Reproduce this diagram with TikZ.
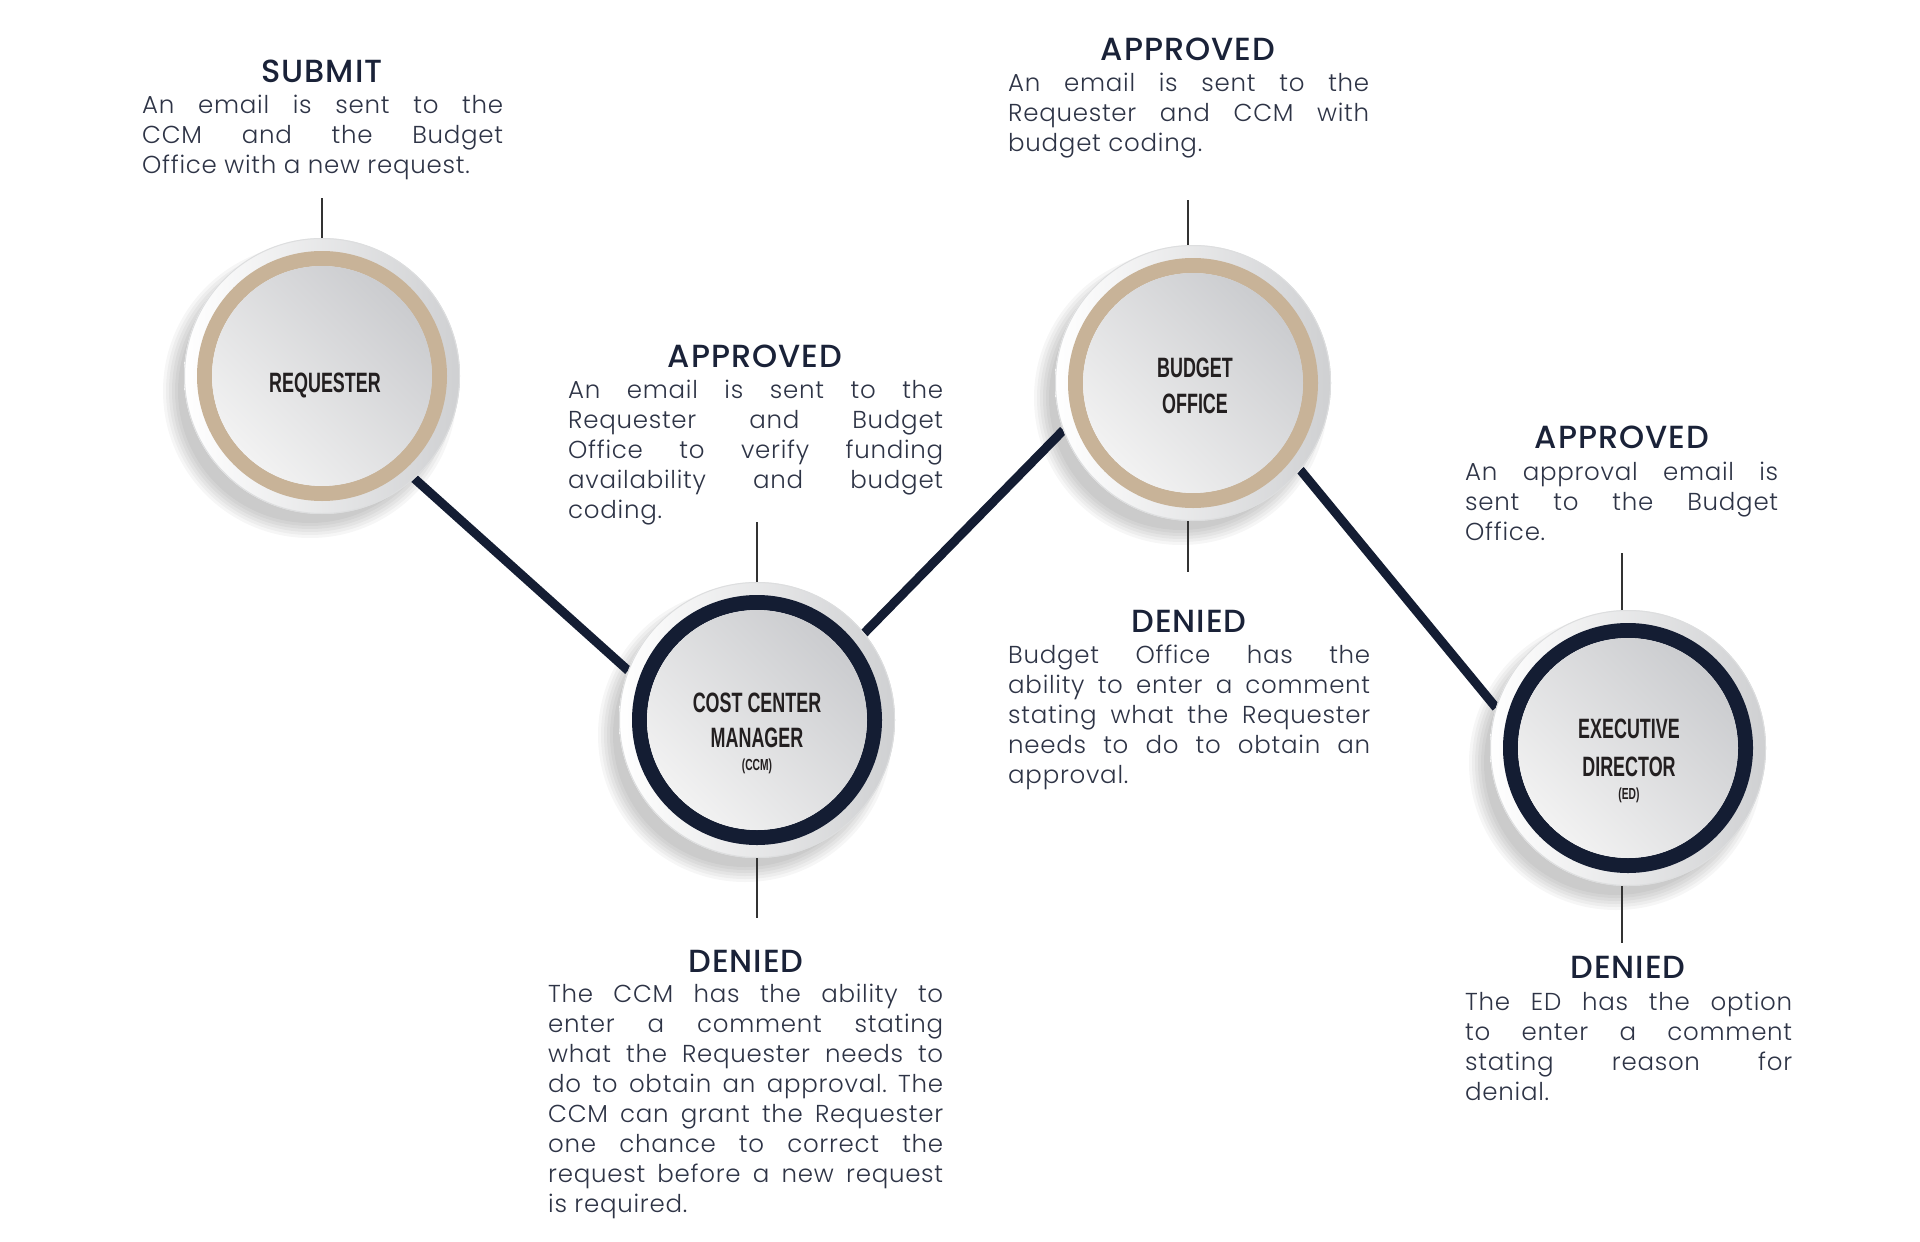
\documentclass[tikz,border=0pt]{standalone}
\usepackage{fontspec}
\usepackage{tikz}
\usetikzlibrary{positioning,calc}
\pgfdeclarelayer{bg}
\pgfsetlayers{bg,main}
\setmainfont{Poppins}
\newfontfamily\bodyfont{Poppins Light}[LetterSpace=3]
\newfontfamily\headfont{Poppins Medium}[LetterSpace=3]
\newfontfamily\capfont{Liberation Sans}[FakeStretch=0.64]
\definecolor{navy}{HTML}{141D33}
\definecolor{tan}{HTML}{C8B398}
\definecolor{headnavy}{HTML}{1A2238}
\definecolor{bodyink}{HTML}{2E3446}
\definecolor{tickgray}{HTML}{333333}
\definecolor{labelblack}{HTML}{231F20}
\definecolor{rimgray}{HTML}{CFD0D2}
\definecolor{discdark}{HTML}{CBCCCF}
\definecolor{disclight}{HTML}{F2F2F2}
\setlength{\parindent}{0pt}
\frenchspacing
% one justified line, and the last line of a block
\newcommand{\jl}[1]{\makebox[\hsize][s]{\strut #1}\\}
\newcommand{\lastl}[1]{\strut #1}

\begin{document}
\begin{tikzpicture}[x=1pt,y=-1pt,
    stage/.style={circle, minimum size=276pt, inner sep=0pt, outer sep=0pt},
    link/.style={navy, line width=9pt},
    tickline/.style={tickgray, line width=2.2pt},
    headtxt/.style={font=\headfont\fontsize{32}{36}\selectfont, text=headnavy, inner sep=0pt, anchor=base},
    bodytxt/.style={font=\bodyfont\fontsize{24.5}{30}\selectfont, text=bodyink, inner sep=0pt, anchor=north west, align=justify, text width=#1},
    stagelbl/.style={font=\capfont\bfseries\fontsize{28}{34}\selectfont, text=labelblack, inner sep=0pt, anchor=base},
    stagesub/.style={font=\capfont\bfseries\fontsize{16}{18}\selectfont, text=labelblack, inner sep=0pt, anchor=base}]
    \useasboundingbox (0,0) rectangle (1920,1242);

    % the four stages
    \node[stage] (req) at (322,376) {};
    \node[stage] (ccm) at (757,720) {};
    \node[stage] (bo) at (1193,383) {};
    \node[stage] (ed) at (1628,748) {};

    % background and soft shadows
    \begin{pgfonlayer}{bg}
        \fill[white] (0,0) rectangle (1920,1242);
        \foreach \n in {req,ccm,bo,ed}
            \foreach \r in {132,135,...,147}
                \fill[black, opacity=.035] ($(\n)+(-12,15)$) circle[radius=\r pt];
    \end{pgfonlayer}

    % connectors
    \draw[link] (req.-48) -- (ccm.159);
    \draw[link] (ccm.39) -- (bo.200);
    \draw[link] (bo.-39) -- (ed.163);

    % discs with coloured rings
    \foreach \n/\c in {req/tan,ccm/navy,bo/tan,ed/navy}{
        \shade[left color=white, right color=rimgray] (\n) circle[radius=138pt];
        \draw[rimgray!70, line width=1pt] (\n) circle[radius=137.5pt];
        \draw[\c, line width=15pt] (\n) circle[radius=117.5pt];
        \shade[top color=discdark, bottom color=disclight, shading angle=-45] (\n) circle[radius=110pt];
    }

    % ticks
    \coordinate (req-up) at (322,198);
    \draw[tickline] (req-up) -- (req.north);
    \coordinate (ccm-up) at (757,522);
    \draw[tickline] (ccm-up) -- (ccm.north);
    \coordinate (ccm-dn) at (757,918);
    \draw[tickline] (ccm.south) -- (ccm-dn);
    \coordinate (bo-up) at (1188,200);
    \draw[tickline] (bo-up) -- (bo-up |- bo.north);
    \coordinate (bo-dn) at (1188,572);
    \draw[tickline] (bo-dn |- bo.south) -- (bo-dn);
    \coordinate (ed-up) at (1622,553);
    \draw[tickline] (ed-up) -- (ed-up |- ed.north);
    \coordinate (ed-dn) at (1622,943);
    \draw[tickline] (ed-dn |- ed.south) -- (ed-dn);

    % stage names
    \node[stagelbl] (req-l) at (325,392) {REQUESTER};
    \node[stagelbl] (ccm-l1) at (757,712) {COST CENTER};
    \node[stagelbl] (ccm-l2) at (757,747) {MANAGER};
    \node[stagesub] (ccm-l3) at (757,770) {(CCM)};
    \node[stagelbl] (bo-l1) at (1195,377) {BUDGET};
    \node[stagelbl] (bo-l2) at (1195,413) {OFFICE};
    \node[stagelbl] (ed-l1) at (1629,738) {EXECUTIVE};
    \node[stagelbl] (ed-l2) at (1629,776) {DIRECTOR};
    \node[stagesub] (ed-l3) at (1629,799) {(ED)};

    % notes
    \node[headtxt] (submit) at (322,82) {SUBMIT};
    \node[bodytxt=361pt] (submit-txt) at (142,92) {\jl{An email is sent to the}\jl{CCM and the Budget}\lastl{Office with a new request.}};

    \node[headtxt] (ccm-ok) at (755,367) {APPROVED};
    \node[bodytxt=375pt] (ccm-ok-txt) at (568,377) {\jl{An email is sent to the}\jl{Requester and Budget}\jl{Office to verify funding}\jl{availability and budget}\lastl{coding.}};

    \node[headtxt] (bo-ok) at (1188,60) {APPROVED};
    \node[bodytxt=361pt] (bo-ok-txt) at (1008,70) {\jl{An email is sent to the}\jl{Requester and CCM with}\lastl{budget coding.}};

    \node[headtxt] (bo-no) at (1189,632) {DENIED};
    \node[bodytxt=362pt] (bo-no-txt) at (1008,642) {\jl{Budget Office has the}\jl{ability to enter a comment}\jl{stating what the Requester}\jl{needs to do to obtain an}\lastl{approval.}};

    \node[headtxt] (ccm-no) at (746,972) {DENIED};
    \node[bodytxt=395pt] (ccm-no-txt) at (548,981) {\jl{The CCM has the ability to}\jl{enter a comment stating}\jl{what the Requester needs to}\jl{do to obtain an approval. The}\jl{CCM can grant the Requester}\jl{one chance to correct the}\jl{request before a new request}\lastl{is required.}};

    \node[headtxt] (ed-ok) at (1622,448) {APPROVED};
    \node[bodytxt=313pt] (ed-ok-txt) at (1465,459) {\jl{An approval email is}\jl{sent to the Budget}\lastl{Office.}};

    \node[headtxt] (ed-no) at (1628,978) {DENIED};
    \node[bodytxt=327pt] (ed-no-txt) at (1465,989) {\jl{The ED has the option}\jl{to enter a comment}\jl{stating reason for}\lastl{denial.}};
\end{tikzpicture}
\end{document}
